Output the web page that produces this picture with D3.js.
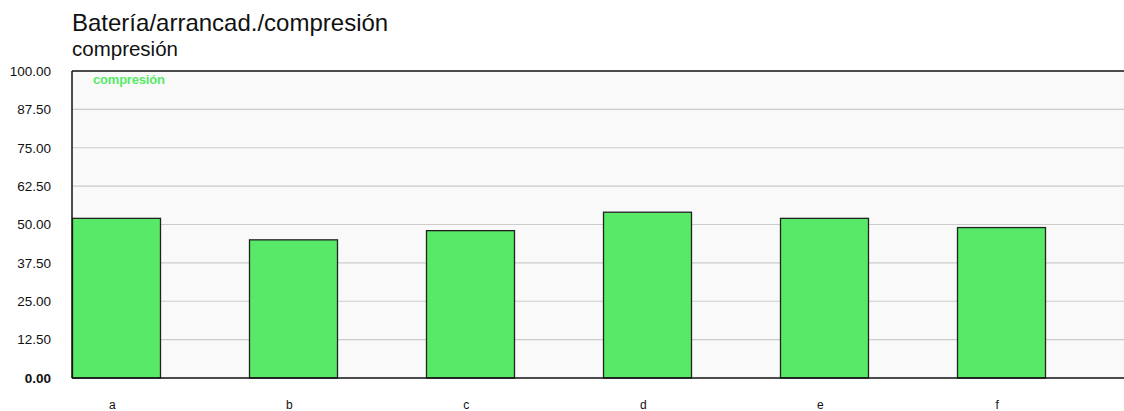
<!DOCTYPE html>
<html><head><meta charset="utf-8">
<script src="https://cdn.jsdelivr.net/npm/d3@7"></script>
<style>body{margin:0;background:#fff;}svg{display:block;font-family:"Liberation Sans",Arial,sans-serif;}</style>
</head><body><svg id="c" width="1124" height="411"></svg>
<script>
const categories = ["a","b","c","d","e","f"];
const values = [52, 45, 48, 54, 52, 49];
const tickValues = [0, 12.5, 25, 37.5, 50, 62.5, 75, 87.5, 100];
const title = "Batería/arrancad./compresión";
const subtitle = "compresión";
const seriesName = "compresión";

(function () {
const svg = d3.select("#c");
const pLeft = 72, pTop = 71, pBottom = 378, step = 177;
const pRight = pLeft + step * categories.length;
const x = d3.scaleBand().domain(categories).range([pLeft, pRight]).padding(0);
const y = d3.scaleLinear().domain([0, 100]).range([pBottom, pTop]);

svg.append("rect").attr("x", pLeft).attr("y", pTop).attr("width", pRight - pLeft).attr("height", pBottom - pTop).attr("fill", "#f9f9f9");

svg.append("g").selectAll("line").data(tickValues.slice(1, -1)).join("line")
  .attr("x1", pLeft).attr("x2", pRight).attr("y1", d => y(d)).attr("y2", d => y(d))
  .attr("stroke", "#cccccc").attr("stroke-width", 1.2);

const yAxis = d3.axisLeft(y).tickValues(tickValues).tickFormat(d3.format(".2f")).tickSize(0).tickPadding(21);
const ga = svg.append("g").attr("transform", `translate(${pLeft},0)`).call(yAxis);
ga.select(".domain").remove();
ga.selectAll("text").attr("font-size", 13.5).attr("fill", "#111").attr("font-family", "Liberation Sans, Arial, sans-serif")
  .attr("font-weight", d => d === 0 ? "bold" : null);

svg.append("g").selectAll("rect").data(values).join("rect")
  .attr("x", (d, i) => x(categories[i]) + 0.5)
  .attr("y", d => y(d))
  .attr("width", x.bandwidth() / 2 - 0.5)
  .attr("height", d => pBottom - y(d))
  .attr("fill", "#58e968").attr("stroke", "#222").attr("stroke-width", 1.3);

const xAxis = d3.axisBottom(x).tickSize(0).tickPadding(22);
const gx = svg.append("g").attr("transform", `translate(-2,${pBottom})`).call(xAxis);
gx.select(".domain").remove();
gx.selectAll("text").attr("font-size", 12).attr("fill", "#111").attr("font-family", "Liberation Sans, Arial, sans-serif")
  .attr("dx", -x.bandwidth() / 4 - 2);

svg.append("line").attr("x1", pLeft).attr("x2", pRight).attr("y1", pBottom).attr("y2", pBottom).attr("stroke", "#111").attr("stroke-width", 1.5);
svg.append("line").attr("x1", pLeft).attr("x2", pLeft).attr("y1", pTop).attr("y2", pBottom).attr("stroke", "#111").attr("stroke-width", 1.5);
svg.append("line").attr("x1", pLeft).attr("x2", pRight).attr("y1", pTop).attr("y2", pTop).attr("stroke", "#111").attr("stroke-width", 1.5);

svg.append("text").attr("x", pLeft).attr("y", 31).attr("font-size", 24).attr("fill", "#111").text(title);
svg.append("text").attr("x", pLeft).attr("y", 56).attr("font-size", 20.5).attr("fill", "#111").text(subtitle);
svg.append("text").attr("x", 93).attr("y", 84).attr("font-size", 13).attr("font-weight", "bold").attr("fill", "#58e968").attr("letter-spacing", -0.2).text(seriesName);
})();
</script></body></html>
